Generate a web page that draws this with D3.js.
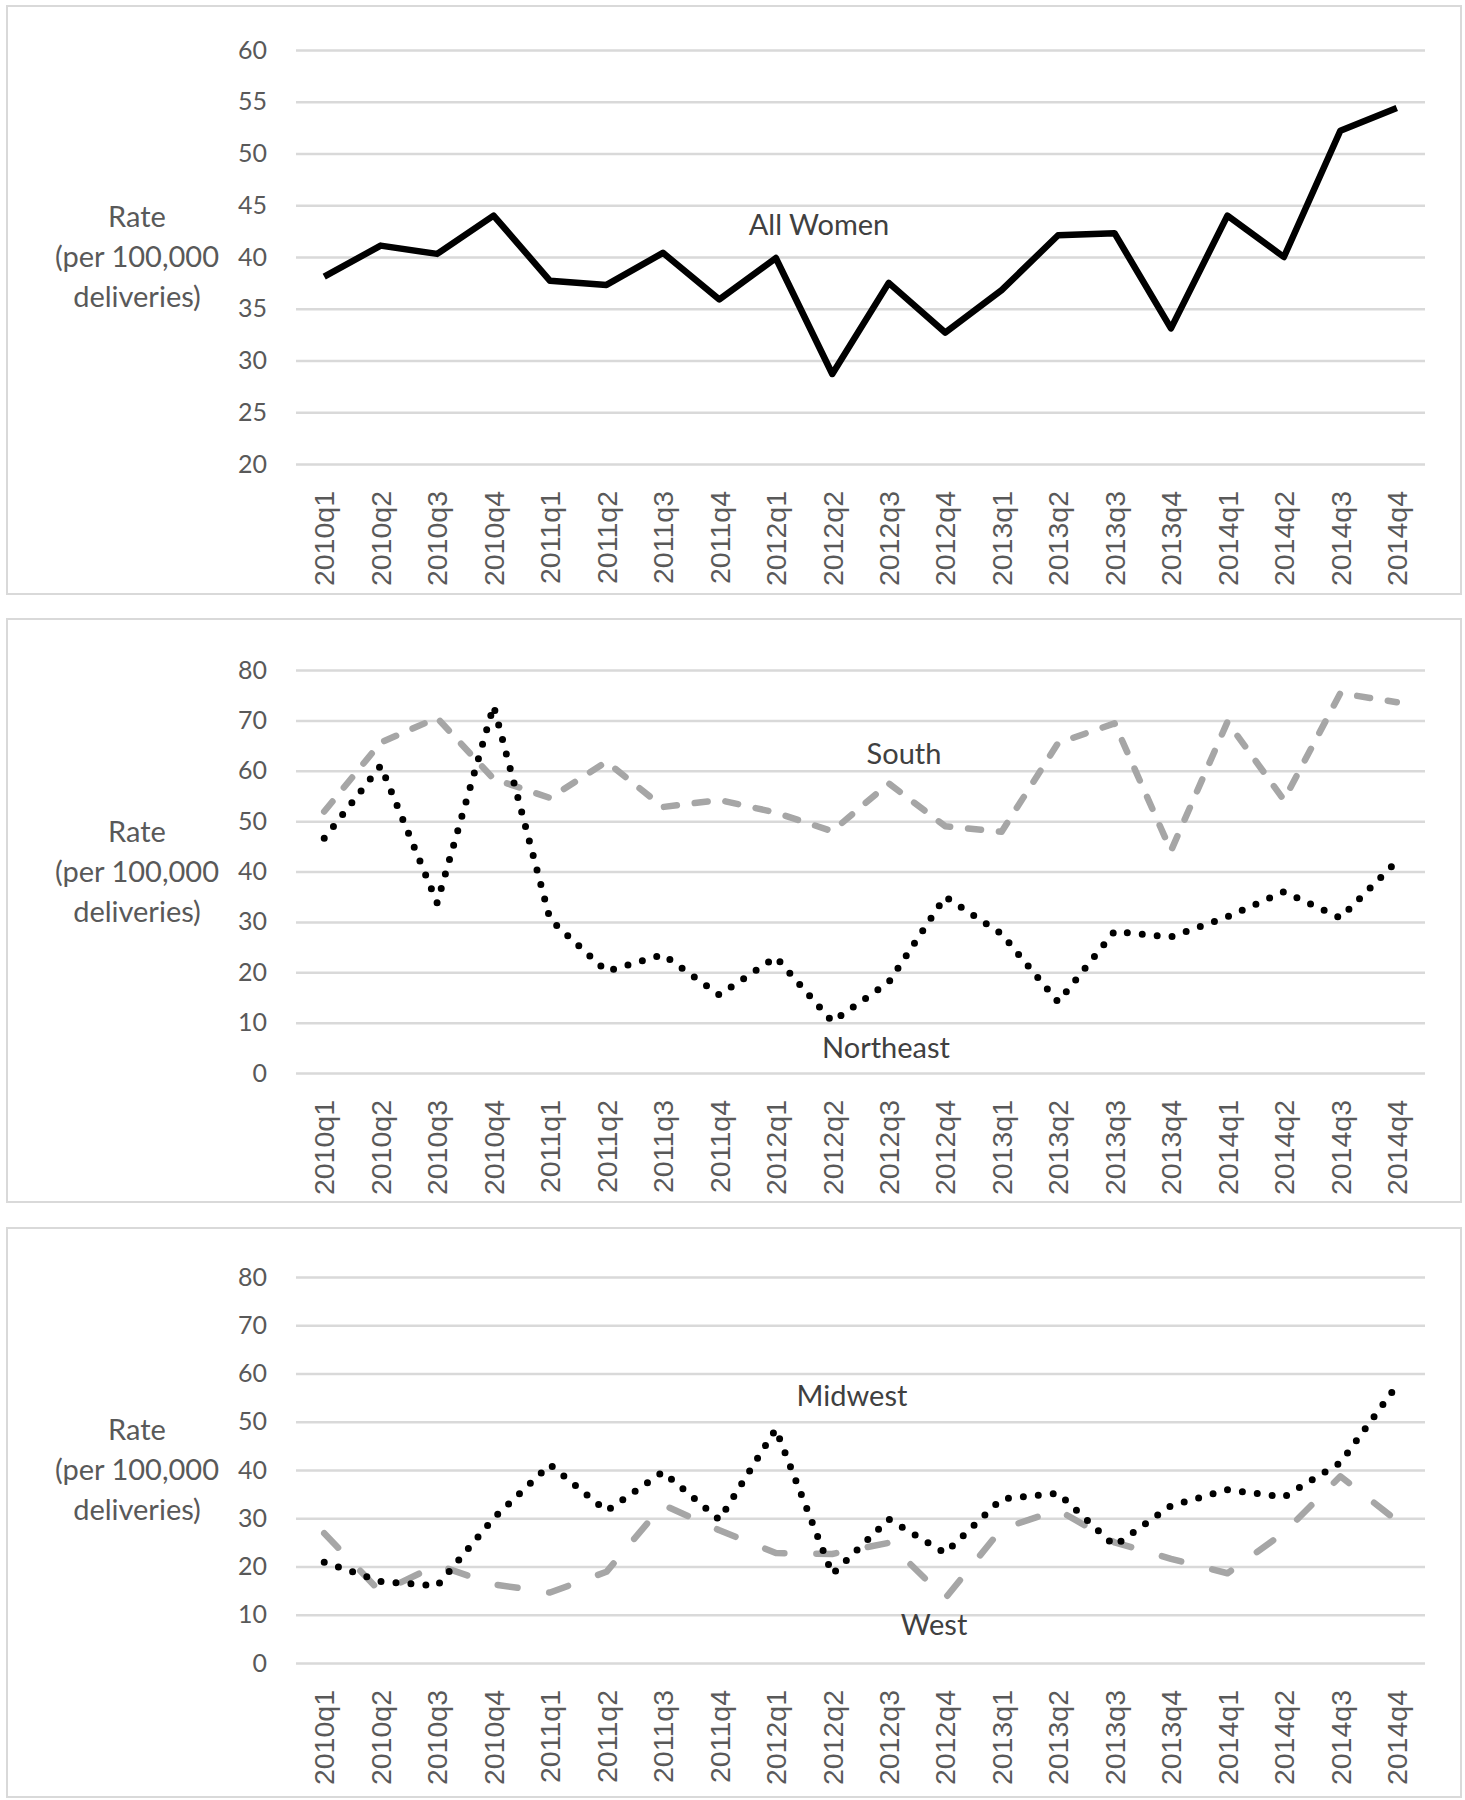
<!DOCTYPE html>
<html>
<head>
<meta charset="utf-8">
<script src="https://cdn.jsdelivr.net/npm/d3@7"></script>
<style>
  body { margin: 0; background: #fff; }
  svg { display: block; }
</style>
</head>
<body>
<div id="chart"></div>
<script>
// quarter labels, shared by all three panels
var quarters = ["2010q1","2010q2","2010q3","2010q4","2011q1","2011q2","2011q3","2011q4",
                "2012q1","2012q2","2012q3","2012q4","2013q1","2013q2","2013q3","2013q4",
                "2014q1","2014q2","2014q3","2014q4"];

// rates per 100,000 deliveries
var allWomen  = [38.1, 41.1, 40.3, 44.0, 37.7, 37.3, 40.4, 35.9, 39.9, 28.7,
                 37.5, 32.7, 36.8, 42.1, 42.3, 33.1, 44.0, 40.0, 52.2, 54.4];
var south     = [51.9, 65.6, 70.5, 58.4, 54.6, 61.8, 52.8, 54.2, 51.7, 48.0,
                 57.5, 49.0, 47.9, 65.5, 69.4, 44.1, 69.7, 54.2, 75.4, 73.6];
var northeast = [46.6, 61.0, 33.8, 72.9, 30.5, 20.2, 23.5, 15.5, 23.0, 10.2,
                 18.0, 35.0, 27.6, 14.1, 28.1, 27.0, 31.0, 36.0, 30.8, 42.0];
var midwest   = [20.9, 16.9, 16.0, 30.0, 41.1, 31.5, 39.6, 29.7, 48.5, 18.4,
                 29.8, 22.8, 34.0, 35.2, 24.3, 32.6, 35.9, 34.4, 41.5, 57.5];
var west      = [26.9, 14.7, 20.3, 16.3, 14.6, 18.9, 32.8, 27.5, 22.8, 22.6,
                 24.9, 13.4, 27.8, 31.7, 25.0, 21.6, 18.6, 27.0, 38.7, 29.5];

var ticksAll    = [20, 25, 30, 35, 40, 45, 50, 55, 60];
var ticksRegion = [0, 10, 20, 30, 40, 50, 60, 70, 80];
var yLabelLines = ["Rate", "(per 100,000", "deliveries)"];

var W = 1465, H = 1800;
var labelFont = "Lato, 'Open Sans', sans-serif";
var tickFont  = "'Liberation Sans', Arial, sans-serif";

var svg = d3.select("#chart").append("svg")
    .attr("width", W).attr("height", H);

var x = d3.scaleBand().domain(quarters).range([296, 1425]);

// line styles
var solidBlack = {stroke: "#000", width: 6.5, dash: null, cap: "butt"};
var dotBlack   = {stroke: "#000", width: 7, dash: "0,15", cap: "round"};
var dashGrey   = {stroke: "#a6a6a6", width: 6.5, dash: "13,18", cap: "round"};
var longGrey   = {stroke: "#a6a6a6", width: 6.5, dash: "20,32", cap: "round"};

var panels = [
  { top: 6, bottom: 594, y0: 464, y1: 50, domain: [20, 60], ticks: ticksAll,
    series: [{values: allWomen, style: solidBlack}],
    notes: [{text: "All Women", x: 819, y: 235}] },
  { top: 619, bottom: 1202, y0: 1073, y1: 670, domain: [0, 80], ticks: ticksRegion,
    series: [{values: south, style: dashGrey}, {values: northeast, style: dotBlack}],
    notes: [{text: "South", x: 904, y: 764}, {text: "Northeast", x: 886, y: 1058}] },
  { top: 1228, bottom: 1797, y0: 1663, y1: 1277, domain: [0, 80], ticks: ticksRegion,
    series: [{values: west, style: longGrey}, {values: midwest, style: dotBlack}],
    notes: [{text: "Midwest", x: 852, y: 1406}, {text: "West", x: 934, y: 1635}] }
];

panels.forEach(function(p) {
  var g = svg.append("g");
  var y = d3.scaleLinear().domain(p.domain).range([p.y0, p.y1]);

  // outer frame
  g.append("rect")
    .attr("x", 7).attr("y", p.top)
    .attr("width", 1461 - 7).attr("height", p.bottom - p.top)
    .attr("fill", "none").attr("stroke", "#d9d9d9").attr("stroke-width", 2);

  // gridlines + y ticks
  var yAxis = d3.axisLeft(y).tickValues(p.ticks).tickSize(-(x.range()[1] - x.range()[0])).tickPadding(29);
  var ya = g.append("g").attr("transform", "translate(" + x.range()[0] + ",0)").call(yAxis);
  ya.select(".domain").remove();
  ya.selectAll(".tick line").attr("stroke", "#d9d9d9").attr("stroke-width", 2.5);
  ya.selectAll(".tick text")
    .attr("fill", "#595959").style("font-family", labelFont).style("font-size", "25px");

  // x tick labels, rotated
  var xAxis = d3.axisBottom(x).tickSize(0).tickPadding(0);
  var xa = g.append("g").attr("transform", "translate(0," + p.y0 + ")").call(xAxis);
  xa.select(".domain").remove();
  xa.selectAll(".tick text")
    .attr("transform", "translate(0,27) rotate(-90)")
    .attr("text-anchor", "end")
    .attr("x", 0).attr("y", 0).attr("dy", "0.36em")
    .attr("fill", "#595959")
    .style("font-family", tickFont).style("font-size", "28.5px");

  // y axis title, three lines
  var mid = (p.y0 + p.y1) / 2;
  g.append("text")
    .attr("text-anchor", "middle")
    .attr("fill", "#595959")
    .style("font-family", labelFont).style("font-size", "29px")
    .selectAll("tspan").data(yLabelLines).join("tspan")
      .attr("x", 137)
      .attr("y", function(d, i) { return mid + 10 + (i - 1) * 40; })
      .text(function(d) { return d; });

  // series
  var line = d3.line()
    .x(function(d, i) { return x(quarters[i]) + x.bandwidth() / 2; })
    .y(function(d) { return y(d); });

  p.series.forEach(function(s) {
    g.append("path")
      .datum(s.values)
      .attr("d", line)
      .attr("fill", "none")
      .attr("stroke", s.style.stroke)
      .attr("stroke-width", s.style.width)
      .attr("stroke-dasharray", s.style.dash)
      .attr("stroke-linecap", s.style.cap)
      .attr("stroke-linejoin", "round");
  });

  // series names
  p.notes.forEach(function(n) {
    g.append("text")
      .attr("x", n.x).attr("y", n.y)
      .attr("text-anchor", "middle")
      .attr("fill", "#404040")
      .style("font-family", labelFont).style("font-size", "29px")
      .text(n.text);
  });
});
</script>
</body>
</html>
